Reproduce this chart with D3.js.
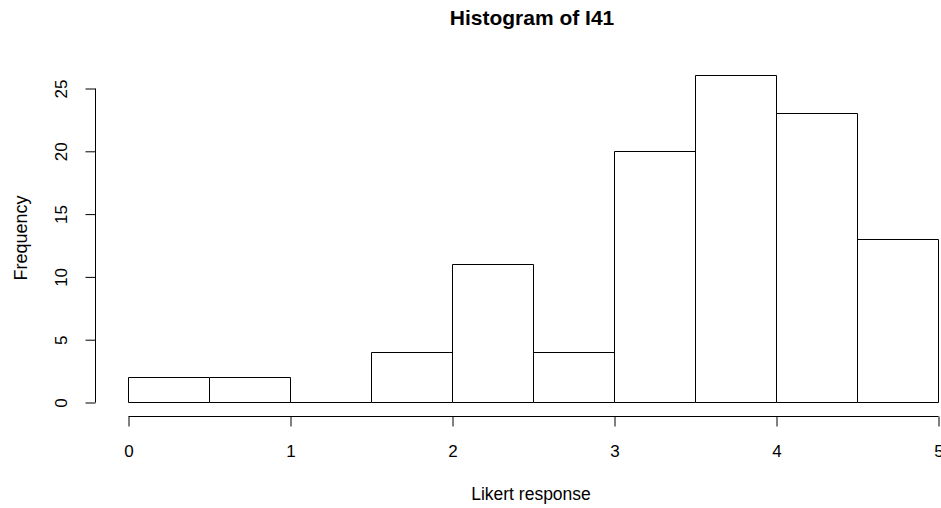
<!DOCTYPE html>
<html><head><meta charset="utf-8">
<script src="https://cdn.jsdelivr.net/npm/d3@7"></script>
<style>body{margin:0;background:#fff}svg{display:block;font-family:"Liberation Sans",Arial,sans-serif}</style>
</head><body>
<svg id="c" width="941" height="508"></svg>
<script>
const binStarts = [0, 0.5, 1, 1.5, 2, 2.5, 3, 3.5, 4, 4.5];
const binWidth = 0.5;
const counts = [2, 2, 0, 4, 11, 4, 20, 26, 23, 13];
const xTicks = [0, 1, 2, 3, 4, 5];
const yTicks = [0, 5, 10, 15, 20, 25];
const title = "Histogram of I41";
const xLabel = "Likert response";
const yLabel = "Frequency";

const svg = d3.select("#c");
const x = d3.scaleLinear().domain([0, 5]).range([128, 938]);
const y = d3.scaleLinear().domain([0, 25]).range([402, 88]);

svg.append("g").selectAll("path").data(binStarts).join("path")
  .attr("d", (d, i) => {
    const x0 = Math.round(x(d)) + 0.5, x1 = Math.round(x(d + binWidth)) + 0.5;
    const y0 = Math.round(y(0)) + 0.5, y1 = Math.round(y(counts[i])) + 0.5;
    return `M${x0},${y0}H${x1}V${y1}H${x0}Z`;
  })
  .attr("fill", "#fff").attr("stroke", "#000").attr("stroke-width", 1);

const xa = svg.append("g").attr("transform", "translate(0.5,416.5)")
  .call(d3.axisBottom(x).tickValues(xTicks).tickSize(10).tickPadding(18).tickFormat(d3.format("d")));
const ya = svg.append("g").attr("transform", "translate(95.5,0.5)")
  .call(d3.axisLeft(y).tickValues(yTicks).tickSize(10).tickPadding(0).tickFormat(d3.format("d")));
[xa, ya].forEach(a => {
  a.selectAll("path").attr("stroke", "#000").attr("d", a === xa ? `M${x(0)},0H${x(5)}` : `M0,${y(0)}V${y(25)}`);
  a.selectAll("line").attr("stroke", "#000");
  a.selectAll("text").attr("font-size", 17).attr("fill", "#000").attr("font-family", "Liberation Sans, Arial, sans-serif");
});
ya.selectAll(".tick text")
  .attr("x", 0).attr("dy", 0).attr("text-anchor", "middle")
  .attr("transform", "translate(-33,0) rotate(-90)")
  .attr("dominant-baseline", "middle");

svg.append("text").attr("x", 532).attr("y", 25).attr("text-anchor", "middle")
  .attr("font-size", 21).attr("font-weight", "bold").text(title);
svg.append("text").attr("x", 531).attr("y", 500).attr("text-anchor", "middle")
  .attr("font-size", 17.5).text(xLabel);
svg.append("text").attr("transform", "translate(27,238) rotate(-90)").attr("text-anchor", "middle")
  .attr("font-size", 18).text(yLabel);
</script>
</body></html>
